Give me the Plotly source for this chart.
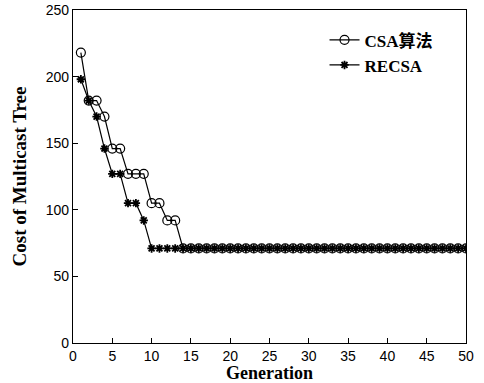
import plotly.graph_objects as go

gen = list(range(1, 51))
csa = [218, 182, 182, 170, 146, 146, 127, 127, 127, 105, 105, 92, 92] + [71] * 37
recsa = [198, 182, 170, 146, 127, 127, 105, 105, 92] + [71] * 41
xticks = [0, 5, 10, 15, 20, 25, 30, 35, 40, 45, 50]
yticks = [0, 50, 100, 150, 200, 250]

serif = "Liberation Serif, Times New Roman, Noto Sans CJK SC, serif"
sans = "Liberation Sans, Arial, sans-serif"

fig = go.Figure()
fig.add_trace(go.Scatter(
    x=gen, y=csa, name="<b>CSA算法</b>", mode="lines+markers",
    line=dict(color="black", width=1.2),
    marker=dict(symbol="circle-open", size=9, color="black", line=dict(width=1.2)),
))
fig.add_trace(go.Scatter(
    x=gen, y=recsa, name="<b>RECSA</b>", mode="lines+markers",
    line=dict(color="black", width=1.2),
    marker=dict(symbol="asterisk-open", size=7, color="black", line=dict(width=1.8)),
))

fig.update_layout(
    width=484, height=383,
    margin=dict(l=73, r=18, t=10, b=40),
    plot_bgcolor="white", paper_bgcolor="white",
    showlegend=True,
    legend=dict(x=0.64, y=0.963, xanchor="left", yanchor="top",
                font=dict(family=serif, size=17, color="black"),
                bgcolor="rgba(0,0,0,0)", tracegroupgap=0, itemwidth=30),
    xaxis=dict(range=[0, 50], tickmode="array", tickvals=xticks,
               ticks="inside", ticklen=5, tickcolor="black",
               showline=True, linecolor="black", linewidth=1.2, mirror=True,
               showgrid=False, zeroline=False, automargin=False,
               tickfont=dict(family=sans, size=14, color="black"),
               title=dict(text="<b>Generation</b>", standoff=3,
                          font=dict(family=serif, size=18, color="black"))),
    yaxis=dict(range=[0, 250], tickmode="array", tickvals=yticks,
               ticks="inside", ticklen=5, tickcolor="black",
               showline=True, linecolor="black", linewidth=1.2, mirror=True,
               showgrid=False, zeroline=False, automargin=False,
               tickfont=dict(family=sans, size=14, color="black"),
               title=dict(text="<b>Cost of Multicast Tree</b>", standoff=14,
                          font=dict(family=serif, size=19, color="black"))),
)

fig.write_html("out.html", config={"displayModeBar": False},
               post_script="document.body.style.margin='0';")
